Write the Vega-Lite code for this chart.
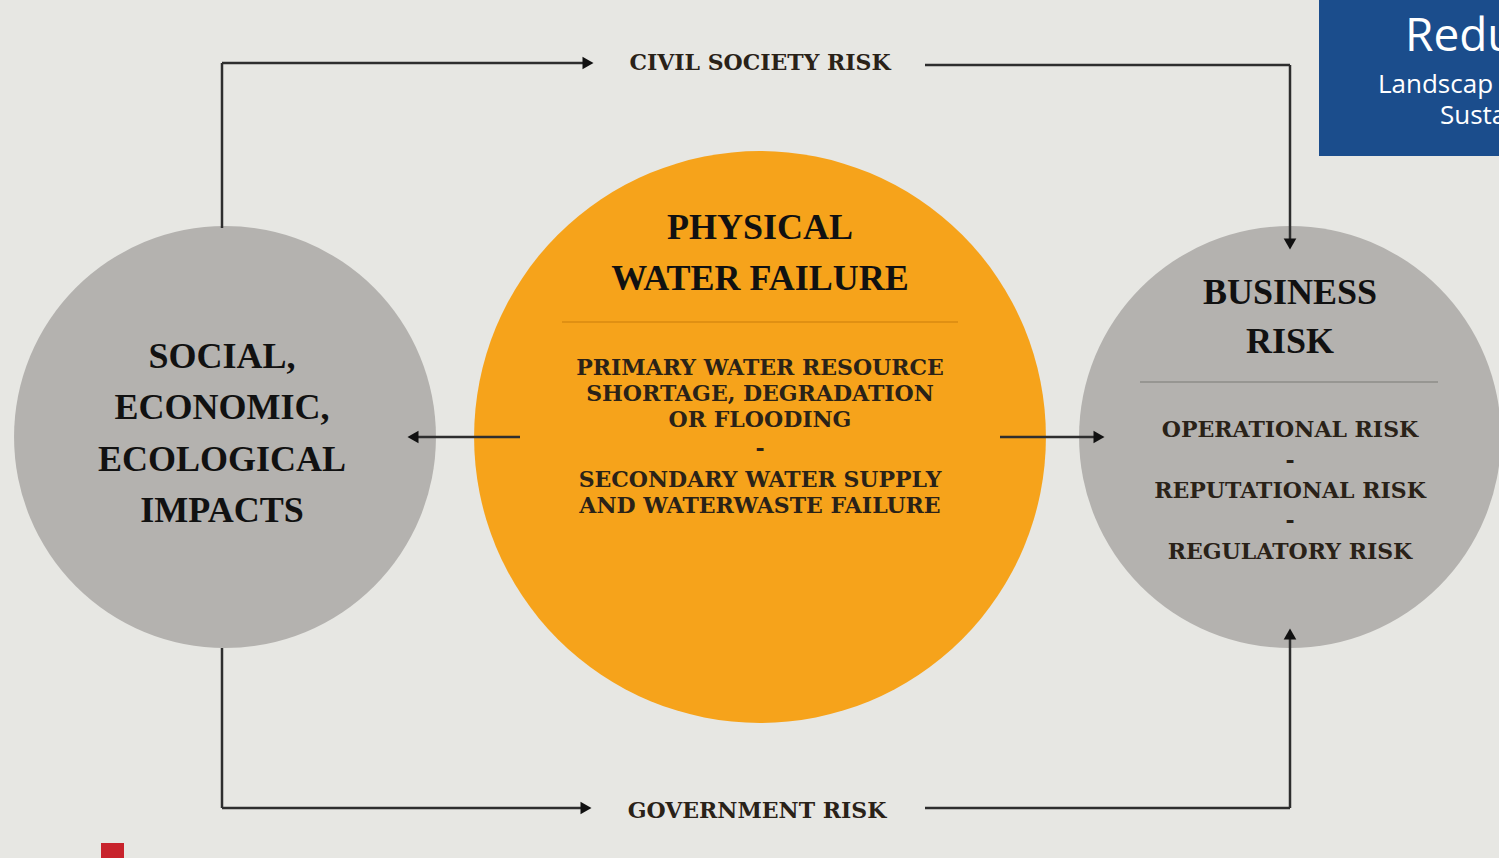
{
  "$schema": "https://vega.github.io/schema/vega-lite/v6.json",
  "autosize": {"type": "fit", "contains": "padding"},
  "width": 1499,
  "height": 858,
  "padding": 0,
  "background": "#e7e7e3",
  "config": {"view": {"stroke": null}},
  "datasets": {
    "box": [{"item": "banner", "x": 1319, "x2": 1499, "y": 0, "y2": 156}, {"item": "red tag", "x": 101, "x2": 124, "y": 843, "y2": 858}],
    "gray": [{"name": "Social, economic, ecological impacts", "x": 225, "y": 437}, {"name": "Business risk", "x": 1290, "y": 437}],
    "orange": [{"name": "Physical water failure", "x": 760, "y": 437}],
    "sepOrange": [{"x": 562, "x2": 958, "y": 322, "y2": 322}],
    "sepGray": [{"x": 1140, "x2": 1438, "y": 382, "y2": 382}],
    "links": [
      {"x": 222, "y": 228, "x2": 222, "y2": 63},
      {"x": 222, "y": 63, "x2": 588, "y2": 63},
      {"x": 925, "y": 65, "x2": 1290, "y2": 65},
      {"x": 1290, "y": 65, "x2": 1290, "y2": 242},
      {"x": 222, "y": 648, "x2": 222, "y2": 808},
      {"x": 222, "y": 808, "x2": 586, "y2": 808},
      {"x": 925, "y": 808, "x2": 1290, "y2": 808},
      {"x": 1290, "y": 808, "x2": 1290, "y2": 636},
      {"x": 520, "y": 437, "x2": 414, "y2": 437},
      {"x": 1000, "y": 437, "x2": 1098, "y2": 437}
    ],
    "heads": [
      {"x": 588, "y": 63, "dir": "right"},
      {"x": 1290, "y": 244, "dir": "down"},
      {"x": 586, "y": 808, "dir": "right"},
      {"x": 1290, "y": 634, "dir": "up"},
      {"x": 413, "y": 437, "dir": "left"},
      {"x": 1099, "y": 437, "dir": "right"}
    ],
    "big": [
      {"label": "SOCIAL,", "x": 222, "y": 357},
      {"label": "ECONOMIC,", "x": 222, "y": 408},
      {"label": "ECOLOGICAL", "x": 222, "y": 460},
      {"label": "IMPACTS", "x": 222, "y": 511},
      {"label": "PHYSICAL", "x": 760, "y": 228},
      {"label": "WATER FAILURE", "x": 760, "y": 279},
      {"label": "BUSINESS", "x": 1290, "y": 293},
      {"label": "RISK", "x": 1290, "y": 342}
    ],
    "small": [
      {"label": "PRIMARY WATER RESOURCE", "x": 760, "y": 368},
      {"label": "SHORTAGE, DEGRADATION", "x": 760, "y": 394},
      {"label": "OR FLOODING", "x": 760, "y": 420},
      {"label": "-", "x": 760, "y": 449},
      {"label": "SECONDARY WATER SUPPLY", "x": 760, "y": 480},
      {"label": "AND WATERWASTE FAILURE", "x": 760, "y": 506},
      {"label": "OPERATIONAL RISK", "x": 1290, "y": 430},
      {"label": "-", "x": 1290, "y": 461},
      {"label": "REPUTATIONAL RISK", "x": 1290, "y": 491},
      {"label": "-", "x": 1290, "y": 521},
      {"label": "REGULATORY RISK", "x": 1290, "y": 552},
      {"label": "CIVIL SOCIETY RISK", "x": 760, "y": 63},
      {"label": "GOVERNMENT RISK", "x": 757, "y": 811}
    ],
    "bannerBig": [{"label": "Redu", "x": 1405, "y": 37}],
    "bannerSmall": [{"label": "Landscap", "x": 1378, "y": 85}, {"label": "Susta", "x": 1440, "y": 116}]
  },
  "encoding": {
    "x": {"field": "x", "type": "quantitative", "scale": {"domain": [0, 1499], "nice": false, "zero": false}, "axis": null},
    "y": {"field": "y", "type": "quantitative", "scale": {"domain": [0, 858], "nice": false, "zero": false, "reverse": true}, "axis": null}
  },
  "layer": [
    {
      "data": {"name": "box"},
      "mark": {"type": "rect", "color": "#1b4d8c"},
      "transform": [{"filter": "datum.item === 'banner'"}],
      "encoding": {"x2": {"field": "x2"}, "y2": {"field": "y2"}}
    },
    {
      "data": {"name": "box"},
      "mark": {"type": "rect", "color": "#c8232c"},
      "transform": [{"filter": "datum.item === 'red tag'"}],
      "encoding": {"x2": {"field": "x2"}, "y2": {"field": "y2"}}
    },
    {
      "data": {"name": "gray"},
      "mark": {"type": "point", "shape": "circle", "filled": true, "color": "#b4b2af", "opacity": 1, "size": 178000, "clip": true}
    },
    {
      "data": {"name": "orange"},
      "mark": {"type": "point", "shape": "circle", "filled": true, "color": "#f6a31b", "opacity": 1, "size": 327000}
    },
    {
      "data": {"name": "sepOrange"},
      "mark": {"type": "rule", "color": "#d98a12", "strokeWidth": 1.5},
      "encoding": {"x2": {"field": "x2"}, "y2": {"field": "y2"}}
    },
    {
      "data": {"name": "sepGray"},
      "mark": {"type": "rule", "color": "#8e8c89", "strokeWidth": 1.5},
      "encoding": {"x2": {"field": "x2"}, "y2": {"field": "y2"}}
    },
    {
      "data": {"name": "links"},
      "mark": {"type": "rule", "color": "#2e2e2e", "strokeWidth": 2.5},
      "encoding": {"x2": {"field": "x2"}, "y2": {"field": "y2"}}
    },
    {
      "data": {"name": "heads"},
      "mark": {"type": "point", "filled": true, "color": "#111111", "opacity": 1, "size": 160},
      "encoding": {
        "shape": {"field": "dir", "type": "nominal", "legend": null,
          "scale": {"domain": ["right", "left", "up", "down"], "range": ["triangle-right", "triangle-left", "triangle-up", "triangle-down"]}}
      }
    },
    {
      "data": {"name": "big"},
      "mark": {"type": "text", "font": "Liberation Serif", "fontWeight": "bold", "fontSize": 36, "color": "#111111", "baseline": "middle", "align": "center"},
      "encoding": {"text": {"field": "label"}}
    },
    {
      "data": {"name": "small"},
      "mark": {"type": "text", "font": "DejaVu Serif", "fontWeight": "bold", "fontSize": 22, "color": "#2a2218", "baseline": "middle", "align": "center"},
      "encoding": {"text": {"field": "label"}}
    },
    {
      "data": {"name": "bannerBig"},
      "mark": {"type": "text", "font": "Open Sans", "fontSize": 46, "color": "#ffffff", "baseline": "middle", "align": "left", "clip": true},
      "encoding": {"text": {"field": "label"}}
    },
    {
      "data": {"name": "bannerSmall"},
      "mark": {"type": "text", "font": "Open Sans", "fontSize": 26, "color": "#ffffff", "baseline": "middle", "align": "left", "clip": true},
      "encoding": {"text": {"field": "label"}}
    }
  ]
}
